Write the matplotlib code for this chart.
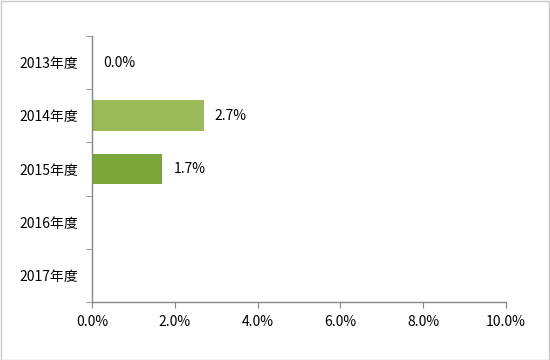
import matplotlib
matplotlib.use("Agg")
import matplotlib.pyplot as plt
from matplotlib.patches import Rectangle
import numpy as np

plt.rcParams['font.family'] = ['Noto Sans CJK SC', 'DejaVu Sans']

years = ['2013年度', '2014年度', '2015年度', '2016年度', '2017年度']
values = [0.0, 2.7, 1.7, np.nan, np.nan]
colors = ['#9BBB59', '#9BBB59', '#7AA63A', '#9BBB59', '#9BBB59']
xticks = [0, 2, 4, 6, 8, 10]

fig = plt.figure(figsize=(5.5, 3.6), dpi=100)
ax = fig.add_axes([92 / 550, 1 - 302 / 360, (506 - 92) / 550, (302 - 36) / 360])

y = np.arange(len(years))
ax.barh(y, np.nan_to_num(values), height=0.58, color=colors)

for yi, v in zip(y, values):
    if not np.isnan(v):
        ax.annotate(f'{v:.1f}%', (v, yi), xytext=(8, 0), textcoords='offset points',
                    va='center', ha='left', fontsize=10, color='#000000')

ax.set_xlim(0, 10)
ax.set_ylim(len(years) - 0.5, -0.5)
ax.set_xticks(xticks)
ax.set_xticklabels([f'{t:.1f}%' for t in xticks], fontsize=10)
ax.set_yticks(y)
ax.set_yticklabels(years, fontsize=10)
ax.set_yticks(np.arange(len(years) + 1) - 0.5, minor=True)
ax.tick_params(axis='y', which='major', length=0, pad=10)
ax.tick_params(axis='y', which='minor', length=4, color='#868686')
ax.tick_params(axis='x', length=4, color='#868686', pad=5)

for s in ['top', 'right']:
    ax.spines[s].set_visible(False)
for s in ['left', 'bottom']:
    ax.spines[s].set_color('#868686')
    ax.spines[s].set_linewidth(1)

fig.patches.append(Rectangle((0.001, 0.001), 0.997, 0.997, transform=fig.transFigure,
                             fill=False, edgecolor='#C8C8C8', linewidth=1))

fig.savefig('out.png', dpi=100)
